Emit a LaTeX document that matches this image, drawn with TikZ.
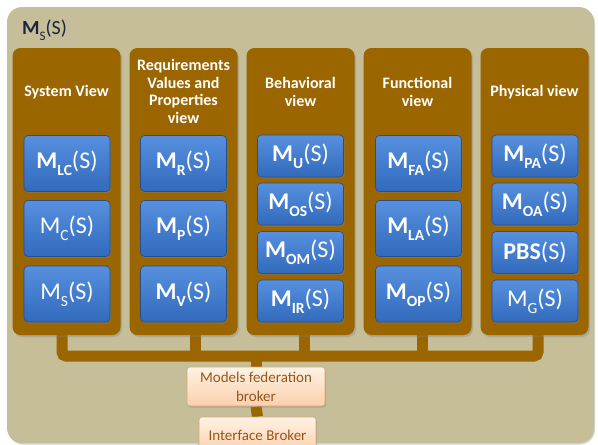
\documentclass[tikz,border=0pt]{standalone}
\usepackage{fontspec}
\setmainfont{Carlito}
\usetikzlibrary{shadows}
\pgfdeclarelayer{back}
\pgfdeclarelayer{busl}
\pgfsetlayers{back,busl,main}
\definecolor{tanbg}{RGB}{197,190,153}
\definecolor{brn}{RGB}{155,101,0}
\definecolor{bluetop}{RGB}{86,144,222}
\definecolor{bluebot}{RGB}{50,106,188}
\definecolor{blueline}{RGB}{38,78,138}
\definecolor{peachtop}{RGB}{255,242,228}
\definecolor{peachbot}{RGB}{250,208,172}
\definecolor{peachline}{RGB}{214,166,124}
\definecolor{brtext}{RGB}{150,86,26}
\definecolor{titletext}{RGB}{28,36,62}
\newcommand\bMs[1]{\textbf{M\raisebox{-0.3em}{\fontsize{15.5}{15.5}\selectfont #1}}(S)}
\newcommand\rMs[1]{M\raisebox{-0.3em}{\fontsize{15.5}{15.5}\selectfont #1}(S)}
\tikzset{
  frame/.style={fill=tanbg, rounded corners=15pt, minimum width=587pt, minimum height=436pt, inner sep=0pt,
    drop shadow={opacity=0.35, shadow xshift=1pt, shadow yshift=-1.5pt}},
  view/.style={fill=brn, rounded corners=8pt, minimum width=108pt, minimum height=287pt, inner sep=0pt,
    drop shadow={opacity=0.35, shadow xshift=1.5pt, shadow yshift=-2pt}},
  hdr/.style={text=white, font=\bfseries\fontsize{16}{17.5}\selectfont, align=center, inner sep=0pt},
  mbox/.style={top color=bluetop, bottom color=bluebot, draw=blueline, line width=0.6pt, rounded corners=4pt,
    minimum width=86pt, inner sep=0pt, text=white, font=\fontsize{24}{24}\selectfont,
    drop shadow={opacity=0.45, shadow xshift=1pt, shadow yshift=-1.5pt}},
  tallbox/.style={mbox, minimum height=56pt},
  shortbox/.style={mbox, minimum height=42pt},
  bus/.style={draw=brn, line width=11pt, rounded corners=4pt},
  broker/.style={top color=peachtop, bottom color=peachbot, draw=peachline, line width=0.6pt, rounded corners=3pt,
    text=brtext, font=\fontsize{15}{19}\selectfont, align=center, inner sep=0pt,
    drop shadow={opacity=0.35, shadow xshift=1pt, shadow yshift=-1.5pt}},
  title/.style={text=titletext, font=\fontsize{20}{20}\selectfont, anchor=west, inner sep=0pt}
}
\begin{document}
\begin{tikzpicture}[x=1pt,y=-1pt]
\useasboundingbox (0,0) rectangle (598,445);
\begin{pgfonlayer}{back}
\fill[white] (0,0) rectangle (598,445);
\end{pgfonlayer}
\clip (0,0) rectangle (598,445);
\begin{pgfonlayer}{back}
\node[frame] (frame) at (300.5,225) {};
\end{pgfonlayer}
\node[title] (ttl) at (22,30) {\textbf{M}\raisebox{-0.3em}{\fontsize{13}{13}\selectfont S}(S)};
% columns
\node[view] (v1) at (66.5,191.5) {};
\node[view] (v2) at (183.5,191.5) {};
\node[view] (v3) at (300.5,191.5) {};
\node[view] (v4) at (417.5,191.5) {};
\node[view] (v5) at (534.5,191.5) {};
% headers
\node[hdr] (h1) at (66.5,92) {System View};
\node[hdr] (h2) at (183.5,91.5) {Requirements\\Values and\\Properties\\view};
\node[hdr] (h3) at (300.5,92) {Behavioral\\view};
\node[hdr] (h4) at (417.5,92) {Functional\\view};
\node[hdr] (h5) at (534.5,92) {Physical view};
% column 1
\node[tallbox] (lc) at (67,163.5) {\bMs{LC}};
\node[tallbox] (c) at (67,228.5) {\rMs{C}};
\node[tallbox] (s) at (67,294) {\rMs{S}};
% column 2
\node[tallbox] (r) at (183.5,163.5) {\bMs{R}};
\node[tallbox] (p) at (183.5,228.5) {\bMs{P}};
\node[tallbox] (v) at (183.5,294) {\bMs{V}};
% column 3
\node[shortbox] (u) at (300.5,156) {\bMs{U}};
\node[shortbox] (os) at (300.5,204) {\bMs{OS}};
\node[shortbox] (om) at (300.5,252.5) {\bMs{OM}};
\node[shortbox] (ir) at (300.5,301) {\bMs{IR}};
% column 4
\node[tallbox] (fa) at (418.5,163.5) {\bMs{FA}};
\node[tallbox] (la) at (418.5,228.5) {\bMs{LA}};
\node[tallbox] (op) at (418.5,294) {\bMs{OP}};
% column 5
\node[shortbox] (pa) at (535,156) {\bMs{PA}};
\node[shortbox] (oa) at (535,204) {\bMs{OA}};
\node[shortbox] (pbs) at (535,252.5) {\textbf{PBS}(S)};
\node[shortbox] (g) at (535,301) {\rMs{G}};
% brokers
\node[broker, minimum width=138pt, minimum height=39pt] (fed) at (256,386.5) {Models federation\\broker};
\node[broker, minimum width=117pt, minimum height=36pt] (ib) at (257.5,435) {Interface Broker};
% bus
\coordinate (b1) at (62,356);
\coordinate (b2) at (195,356);
\coordinate (b3) at (304,356);
\coordinate (b4) at (422,356);
\coordinate (b5) at (538,356);
\begin{pgfonlayer}{busl}
\draw[bus] (v1.south -| b1) -- (b1) -- (b5) -- (v5.south -| b5);
\draw[bus] (v2.south -| b2) -- (b2);
\draw[bus] (v3.south -| b3) -- (b3);
\draw[bus] (v4.south -| b4) -- (b4);
\draw[bus] (fed.north |- b1) -- (fed.north);
\draw[bus] (fed.south) -- (ib.north);
\end{pgfonlayer}
\end{tikzpicture}
\end{document}
